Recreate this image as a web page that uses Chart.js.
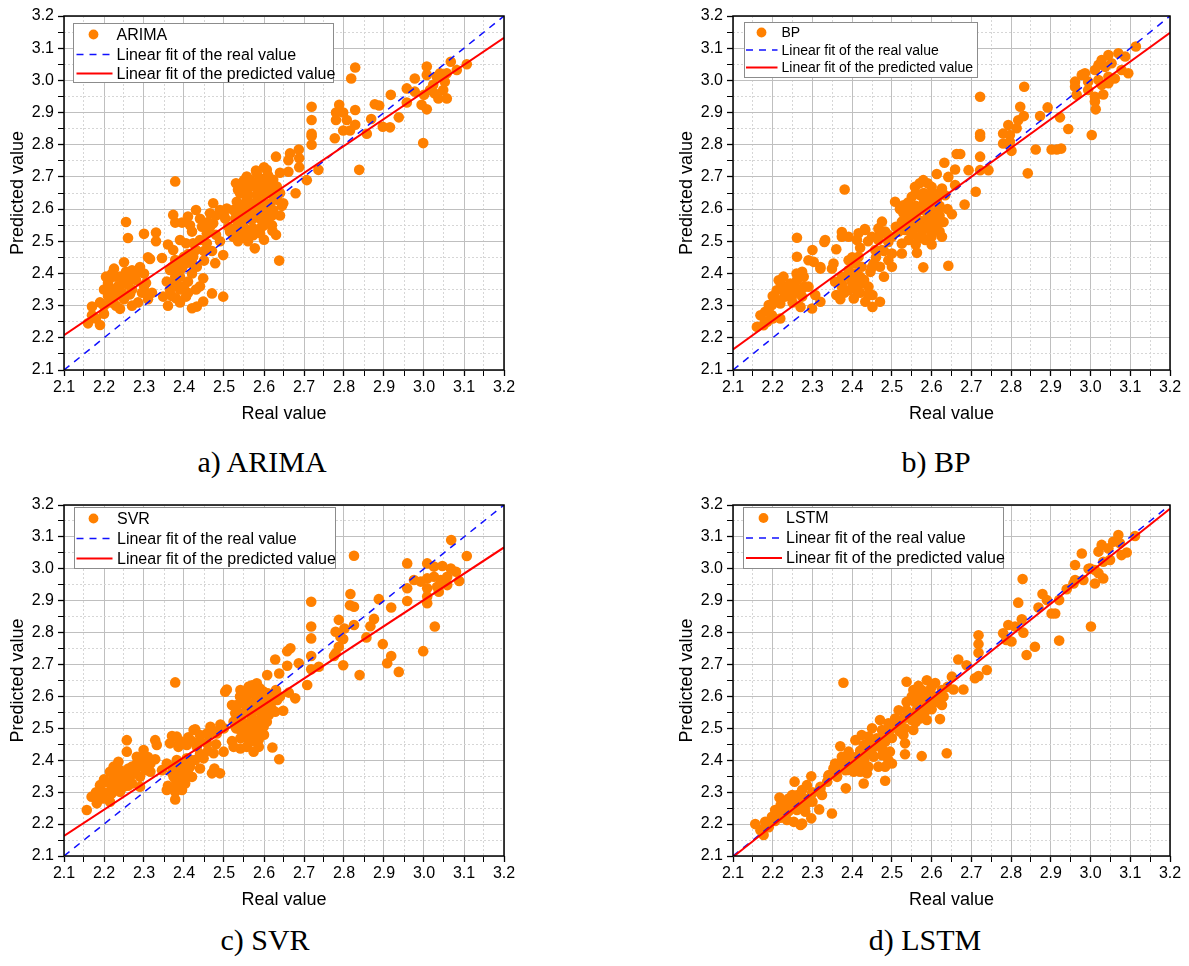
<!DOCTYPE html>
<html><head><meta charset="utf-8">
<script src="https://cdn.jsdelivr.net/npm/chart.js@4.4.0/dist/chart.umd.min.js"></script>
<style>
body{margin:0;background:#fff;width:1189px;height:966px;position:relative;overflow:hidden;font-family:"Liberation Sans",Arial,sans-serif}
canvas{position:absolute}
.cap{position:absolute;font-family:"Liberation Serif","Times New Roman",serif;font-size:30px;color:#000;transform:translate(-50%,-50%);white-space:nowrap;line-height:1}
</style></head><body>
<canvas id="cA" width="524" height="430" style="left:0;top:0"></canvas>
<canvas id="cB" width="521" height="430" style="left:669px;top:0"></canvas>
<canvas id="cC" width="524" height="427" style="left:0;top:489px"></canvas>
<canvas id="cD" width="521" height="427" style="left:669px;top:489px"></canvas>
<div class="cap" style="left:262px;top:462px">a) ARIMA</div>
<div class="cap" style="left:936px;top:462px">b) BP</div>
<div class="cap" style="left:265px;top:940px">c) SVR</div>
<div class="cap" style="left:925px;top:940px">d) LSTM</div>
<script>
// ---------------- DATA ----------------
const axisMin = 2.1, axisMax = 3.2;
const xTitle = 'Real value', yTitle = 'Predicted value';
const realFitLabel = 'Linear fit of the real value';
const predFitLabel = 'Linear fit of the predicted value';
const modelNames = ['ARIMA', 'BP', 'SVR', 'LSTM'];

const realFit  = [[2.1,2.1],[3.2,3.2]];
const arimaFit = [[2.1,2.208],[3.2,3.132]];
const bpFit    = [[2.1,2.164],[3.2,3.148]];
const svrFit   = [[2.1,2.163],[3.2,3.067]];
const lstmFit  = [[2.1,2.097],[3.2,3.188]];

const arimaPoints = [
[3.007,3.043],[3.067,3.058],[3.107,3.05],[3.082,3.032],[2.977,3.006],[2.957,2.975],[2.977,2.965],[3.007,3.017],[3.032,3.012],[3.04,3.022],[3.023,2.986],[3.015,2.97],[3.048,2.97],[3.057,2.944],[3.036,2.944],[2.994,2.924],[3.007,2.91],[2.957,2.931],[2.998,2.805],[3.052,2.996],[3.0,2.955],[3.026,2.96],[3.057,3.022],
[2.917,2.955],[2.877,2.926],[2.888,2.922],[2.937,2.885],[2.868,2.88],[2.897,2.856],[2.915,2.854],[2.857,2.834],[2.828,3.04],[2.818,3.006],[2.788,2.924],[2.78,2.9],[2.798,2.9],[2.828,2.908],[2.78,2.877],[2.807,2.877],[2.828,2.862],[2.798,2.844],[2.815,2.844],[2.777,2.82],[2.838,2.722],[2.719,2.918],[2.719,2.877],[2.719,2.834],[2.719,2.826],[2.719,2.8],[2.736,2.722],[2.707,2.69],[2.687,2.785],[2.688,2.758],[2.688,2.73],[2.665,2.773],[2.661,2.752],[2.63,2.763],[2.64,2.713],[2.661,2.716],[2.679,2.649],[2.648,2.618],
[2.557,2.701],[2.582,2.711],[2.607,2.722],[2.59,2.696],[2.623,2.691],[2.548,2.675],[2.569,2.67],[2.59,2.67],[2.611,2.675],[2.632,2.67],[2.54,2.649],[2.561,2.644],[2.582,2.644],[2.603,2.649],[2.623,2.644],[2.532,2.623],[2.553,2.618],[2.573,2.618],[2.594,2.623],[2.615,2.618],[2.632,2.629],[2.523,2.597],[2.544,2.592],[2.565,2.592],[2.586,2.597],[2.607,2.592],[2.623,2.597],[2.528,2.571],[2.548,2.566],[2.569,2.566],[2.59,2.571],[2.611,2.566],[2.532,2.545],[2.553,2.54],[2.573,2.54],[2.594,2.545],[2.523,2.514],[2.548,2.514],[2.573,2.519],[2.59,2.525],[2.621,2.533],[2.577,2.478],[2.638,2.44],[2.507,2.602],[2.503,2.571],[2.511,2.545],[2.607,2.691],[2.565,2.691],[2.586,2.654],[2.557,2.633],
[2.535,2.66],[2.555,2.655],[2.575,2.68],[2.6,2.66],[2.62,2.655],[2.64,2.65],[2.645,2.61],[2.6,2.61],[2.58,2.6],[2.555,2.6],[2.535,2.605],[2.54,2.58],[2.56,2.575],[2.58,2.58],[2.6,2.58],[2.62,2.58],[2.64,2.58],[2.54,2.53],[2.56,2.525],[2.58,2.53],[2.6,2.55],[2.62,2.55],[2.515,2.53],[2.535,2.5],[2.56,2.5],[2.6,2.505],[2.63,2.52],[2.61,2.705],[2.58,2.72],[2.6,2.73],[2.55,2.69],[2.53,2.68],
[2.378,2.686],[2.373,2.582],[2.378,2.558],[2.395,2.558],[2.41,2.577],[2.43,2.597],[2.415,2.55],[2.39,2.504],[2.405,2.494],[2.378,2.442],[2.365,2.411],[2.378,2.39],[2.395,2.416],[2.405,2.432],[2.423,2.452],[2.43,2.473],[2.44,2.504],[2.457,2.525],[2.473,2.556],[2.473,2.618],[2.465,2.587],[2.49,2.597],[2.498,2.457],[2.478,2.432],[2.448,2.385],[2.47,2.338],[2.498,2.328],[2.448,2.313],[2.432,2.297],[2.42,2.292],[2.405,2.328],[2.38,2.323],[2.365,2.349],[2.395,2.359],[2.41,2.375],[2.42,2.4],[2.39,2.39],[2.348,2.328],[2.357,2.375],[2.382,2.411],[2.4,2.452],[2.423,2.494],[2.457,2.494],[2.465,2.545],[2.445,2.545],[2.48,2.52],[2.42,2.432],[2.432,2.421],[2.44,2.36],[2.373,2.473],
[2.38,2.37],[2.4,2.36],[2.39,2.35],[2.37,2.33],[2.36,2.3],[2.39,2.31],[2.41,2.34],[2.43,2.35],[2.45,2.44],[2.47,2.47],[2.49,2.5],[2.45,2.47],[2.41,2.46],[2.39,2.44],[2.37,2.42],[2.46,2.56],[2.48,2.58],[2.5,2.58],[2.44,2.57],[2.42,2.53],
[2.16,2.245],[2.17,2.297],[2.19,2.24],[2.18,2.26],[2.2,2.275],[2.19,2.31],[2.215,2.31],[2.21,2.33],[2.205,2.39],[2.225,2.415],[2.25,2.435],[2.215,2.385],[2.23,2.39],[2.255,2.405],[2.27,2.41],[2.29,2.42],[2.235,2.36],[2.26,2.365],[2.28,2.38],[2.22,2.35],[2.245,2.34],[2.265,2.335],[2.295,2.34],[2.24,2.29],[2.27,2.3],[2.285,2.31],[2.305,2.34],[2.32,2.34],[2.255,2.56],[2.26,2.51],[2.3,2.523],[2.31,2.45],[2.33,2.527],[2.33,2.5],[2.315,2.445],[2.345,2.448],[2.36,2.49],[2.3,2.4],[2.305,2.37],
[2.2,2.35],[2.21,2.37],[2.23,2.33],[2.25,2.37],[2.24,2.39],[2.26,2.39],[2.28,2.4],[2.27,2.35],[2.25,2.32],[2.23,2.3],[2.17,2.27],[2.2,2.3],[2.22,2.4],[2.3,2.36],[2.31,2.32]
];

const bpPoints = [
[3.114,3.105],[3.045,3.079],[3.07,3.084],[3.087,3.074],[3.028,3.063],[3.02,3.048],[3.037,3.042],[3.053,3.053],[3.011,3.032],[2.986,3.022],[2.978,3.017],[2.961,2.996],[2.961,2.98],[2.994,2.996],[3.02,3.001],[3.045,3.011],[3.061,3.006],[3.078,3.032],[3.095,3.022],[2.994,2.97],[3.011,2.949],[3.011,2.934],[3.013,2.91],[3.032,2.956],[2.965,2.955],[3.003,2.83],[3.028,2.986],[3.045,2.991],
[2.833,2.98],[2.722,2.949],[2.722,2.833],[2.722,2.825],[2.722,2.763],[2.823,2.918],[2.832,2.889],[2.818,2.876],[2.793,2.861],[2.814,2.851],[2.78,2.835],[2.797,2.83],[2.797,2.809],[2.78,2.804],[2.801,2.781],[2.892,2.916],[2.873,2.889],[2.923,2.885],[2.944,2.849],[2.862,2.785],[2.902,2.785],[2.915,2.785],[2.926,2.788],[2.842,2.711],[2.743,2.721],[2.722,2.721],[2.693,2.721],[2.663,2.771],[2.672,2.771],[2.632,2.744],[2.659,2.723],[2.642,2.7],[2.613,2.709],[2.711,2.654],[2.683,2.614],[2.651,2.584],[2.659,2.675],
[2.558,2.669],[2.579,2.69],[2.6,2.669],[2.626,2.664],[2.634,2.643],[2.508,2.623],[2.529,2.612],[2.55,2.638],[2.571,2.643],[2.592,2.638],[2.613,2.628],[2.529,2.587],[2.55,2.597],[2.571,2.602],[2.592,2.607],[2.617,2.597],[2.525,2.561],[2.546,2.566],[2.567,2.566],[2.588,2.571],[2.609,2.566],[2.533,2.535],[2.554,2.535],[2.575,2.54],[2.596,2.535],[2.613,2.54],[2.542,2.504],[2.567,2.509],[2.584,2.504],[2.626,2.514],[2.525,2.493],[2.525,2.462],[2.563,2.464],[2.579,2.419],[2.642,2.424],[2.5,2.514],[2.517,2.53],[2.579,2.597],[2.558,2.587],[2.605,2.587],[2.542,2.587],
[2.52,2.6],[2.54,2.62],[2.56,2.61],[2.58,2.62],[2.6,2.62],[2.62,2.61],[2.64,2.6],[2.56,2.65],[2.58,2.65],[2.6,2.65],[2.62,2.65],[2.59,2.68],[2.57,2.68],[2.55,2.55],[2.57,2.55],[2.59,2.55],[2.61,2.55],[2.63,2.56],[2.55,2.52],[2.575,2.52],[2.6,2.515],[2.62,2.53],[2.53,2.55],[2.51,2.545],[2.54,2.58],[2.56,2.58],[2.6,2.58],[2.62,2.58],[2.56,2.49],[2.6,2.49],
[2.475,2.561],[2.466,2.54],[2.483,2.53],[2.45,2.514],[2.433,2.535],[2.416,2.525],[2.432,2.538],[2.466,2.504],[2.491,2.498],[2.458,2.473],[2.475,2.473],[2.5,2.462],[2.491,2.441],[2.5,2.421],[2.47,2.421],[2.454,2.431],[2.446,2.405],[2.424,2.421],[2.408,2.4],[2.404,2.379],[2.424,2.369],[2.441,2.359],[2.48,2.39],[2.441,2.333],[2.451,2.333],[2.433,2.312],[2.451,2.296],[2.47,2.312],[2.404,2.322],[2.391,2.348],[2.374,2.359],[2.36,2.333],[2.374,2.369],[2.391,2.441],[2.391,2.41],[2.374,2.39],[2.357,2.374],[2.408,2.431],[2.42,2.39],[2.416,2.452],[2.391,2.514],[2.374,2.514],[2.374,2.529],[2.412,2.504],[2.349,2.415],[2.353,2.431],[2.36,2.475],[2.381,2.661],[2.33,2.498],[2.332,2.504],[2.32,2.415],
[2.39,2.39],[2.4,2.37],[2.41,2.35],[2.38,2.34],[2.37,2.32],[2.42,2.34],[2.43,2.38],[2.45,2.42],[2.46,2.45],[2.48,2.47],[2.49,2.52],[2.47,2.52],[2.44,2.5],[2.42,2.48],[2.4,2.45],
[2.261,2.511],[2.261,2.452],[2.3,2.473],[2.29,2.441],[2.303,2.436],[2.32,2.42],[2.274,2.405],[2.227,2.39],[2.215,2.379],[2.21,2.348],[2.227,2.359],[2.244,2.369],[2.261,2.379],[2.278,2.39],[2.24,2.348],[2.257,2.343],[2.274,2.353],[2.29,2.359],[2.231,2.328],[2.248,2.328],[2.274,2.328],[2.307,2.333],[2.27,2.296],[2.299,2.291],[2.32,2.312],[2.219,2.307],[2.198,2.302],[2.19,2.302],[2.181,2.281],[2.169,2.27],[2.198,2.27],[2.186,2.25],[2.16,2.234],[2.177,2.239],[2.219,2.26],[2.235,2.338],[2.252,2.364],
[2.2,2.33],[2.22,2.37],[2.24,2.36],[2.26,2.35],[2.28,2.36],[2.25,2.31],[2.21,2.32],[2.23,2.34],[2.26,2.4],[2.19,2.28],[2.2,2.26],[2.18,2.25]
];

const svrPoints = [
[3.068,3.09],[3.107,3.04],[2.958,3.017],[3.008,3.017],[3.025,3.007],[3.046,3.009],[3.067,3.001],[3.08,2.991],[2.975,2.965],[2.992,2.96],[3.008,2.97],[3.025,2.975],[3.042,2.965],[3.058,2.975],[3.088,2.962],[3.008,2.939],[3.033,2.944],[3.058,2.949],[2.958,2.939],[3.037,2.928],[2.958,2.899],[3.008,2.913],[3.008,2.892],[3.027,2.819],[2.998,2.742],[2.825,3.041],
[2.718,2.897],[2.718,2.819],[2.718,2.782],[2.718,2.727],[2.718,2.685],[2.816,2.921],[2.825,2.881],[2.815,2.886],[2.887,2.905],[2.918,2.879],[2.787,2.84],[2.779,2.803],[2.801,2.813],[2.825,2.824],[2.875,2.843],[2.866,2.82],[2.856,2.785],[2.791,2.787],[2.798,2.78],[2.787,2.756],[2.779,2.735],[2.775,2.727],[2.798,2.698],[2.839,2.667],[2.897,2.764],[2.918,2.727],[2.908,2.704],[2.937,2.677],[2.737,2.693],[2.708,2.636],[2.666,2.751],[2.658,2.742],[2.658,2.696],[2.687,2.704],[2.628,2.716],[2.608,2.667],[2.638,2.672],[2.678,2.594],[2.662,2.612],[2.648,2.555],[2.638,2.403],[2.621,2.44],
[2.503,2.615],[2.507,2.622],[2.52,2.573],[2.541,2.62],[2.562,2.631],[2.582,2.641],[2.557,2.6],[2.578,2.61],[2.599,2.615],[2.62,2.6],[2.532,2.573],[2.553,2.573],[2.574,2.578],[2.595,2.584],[2.616,2.573],[2.633,2.589],[2.528,2.547],[2.549,2.547],[2.57,2.547],[2.591,2.552],[2.612,2.542],[2.628,2.552],[2.524,2.521],[2.545,2.521],[2.566,2.521],[2.587,2.526],[2.607,2.521],[2.541,2.495],[2.562,2.495],[2.582,2.495],[2.557,2.469],[2.578,2.479],[2.524,2.442],[2.541,2.437],[2.557,2.442],[2.574,2.427],[2.587,2.442],[2.57,2.562],[2.595,2.562],[2.599,2.505],[2.541,2.469],[2.587,2.465],
[2.54,2.6],[2.56,2.61],[2.58,2.6],[2.6,2.6],[2.62,2.59],[2.55,2.58],[2.59,2.59],[2.61,2.58],[2.53,2.56],[2.56,2.56],[2.58,2.57],[2.6,2.55],[2.62,2.56],[2.54,2.53],[2.57,2.53],[2.6,2.53],[2.55,2.51],[2.58,2.51],[2.6,2.48],[2.57,2.46],[2.55,2.48],[2.53,2.5],[2.52,2.46],[2.61,2.61],[2.57,2.635],[2.59,2.625],[2.63,2.62],[2.64,2.6],
[2.378,2.644],[2.428,2.497],[2.466,2.505],[2.491,2.512],[2.482,2.484],[2.457,2.484],[2.44,2.479],[2.411,2.472],[2.382,2.474],[2.37,2.476],[2.365,2.453],[2.386,2.442],[2.407,2.448],[2.432,2.442],[2.457,2.453],[2.499,2.427],[2.474,2.422],[2.449,2.406],[2.428,2.401],[2.407,2.406],[2.382,2.401],[2.357,2.39],[2.345,2.369],[2.37,2.38],[2.39,2.374],[2.415,2.38],[2.44,2.374],[2.476,2.374],[2.47,2.359],[2.49,2.359],[2.374,2.348],[2.395,2.348],[2.42,2.348],[2.382,2.322],[2.403,2.327],[2.357,2.307],[2.378,2.301],[2.395,2.307],[2.378,2.277],[2.424,2.495],
[2.37,2.36],[2.39,2.36],[2.41,2.36],[2.38,2.34],[2.4,2.34],[2.38,2.31],[2.36,2.32],[2.4,2.39],[2.42,2.4],[2.44,2.42],[2.46,2.43],[2.48,2.45],[2.44,2.46],[2.42,2.46],[2.39,2.46],[2.46,2.48],[2.48,2.49],[2.5,2.5],
[2.257,2.463],[2.257,2.427],[2.299,2.432],[2.328,2.463],[2.332,2.448],[2.328,2.403],[2.311,2.395],[2.29,2.406],[2.282,2.39],[2.236,2.395],[2.224,2.38],[2.215,2.364],[2.24,2.369],[2.261,2.374],[2.278,2.369],[2.303,2.369],[2.316,2.364],[2.224,2.348],[2.244,2.343],[2.265,2.348],[2.29,2.348],[2.228,2.322],[2.249,2.317],[2.27,2.327],[2.29,2.317],[2.24,2.301],[2.219,2.296],[2.19,2.322],[2.194,2.301],[2.178,2.291],[2.169,2.286],[2.182,2.265],[2.198,2.28],[2.215,2.27],[2.157,2.244],[2.316,2.39],[2.282,2.411],
[2.21,2.33],[2.23,2.36],[2.25,2.36],[2.27,2.38],[2.25,2.34],[2.22,2.31],[2.2,2.3],[2.26,2.32],[2.3,2.38],[2.2,2.34],[2.18,2.3],[2.31,2.41]
];

const lstmPoints = [
[3.07,3.106],[3.112,3.103],[3.057,3.085],[3.028,3.075],[3.045,3.064],[3.02,3.054],[3.074,3.08],[3.091,3.051],[3.078,3.043],[3.049,3.028],[3.032,3.022],[2.978,3.048],[2.961,3.012],[2.999,3.001],[3.011,2.996],[3.02,2.986],[3.032,2.97],[3.011,2.954],[2.982,2.965],[2.961,2.965],[2.957,2.954],[2.94,2.936],[2.995,3.0],[2.921,2.902],[2.911,2.86],[2.902,2.86],[2.921,2.775],[3.001,2.819],[2.879,2.921],[2.89,2.902],[2.869,2.879],[2.829,2.968],[2.818,2.894],[2.827,2.842],[2.81,2.819],[2.793,2.824],[2.78,2.798],[2.788,2.777],[2.801,2.772],[2.831,2.8],[2.839,2.73],[2.86,2.756],[2.718,2.792],[2.718,2.764],[2.718,2.737],[2.709,2.657],[2.718,2.664],[2.739,2.683],[2.688,2.698],[2.667,2.716],[2.651,2.662],[2.68,2.622],[2.655,2.622],[2.621,2.529],[2.638,2.422],[2.575,2.413],[2.533,2.419],[2.378,2.643],
[2.588,2.651],[2.567,2.633],[2.609,2.642],[2.537,2.646],[2.626,2.62],[2.554,2.62],[2.575,2.62],[2.596,2.62],[2.617,2.594],[2.537,2.583],[2.558,2.583],[2.579,2.589],[2.6,2.578],[2.626,2.573],[2.517,2.557],[2.537,2.557],[2.562,2.557],[2.583,2.552],[2.508,2.531],[2.529,2.531],[2.55,2.526],[2.571,2.531],[2.588,2.526],[2.491,2.516],[2.512,2.505],[2.533,2.5],[2.554,2.495],[2.529,2.479],[2.533,2.453],[2.47,2.526],[2.45,2.5],[2.475,2.495],[2.491,2.484],[2.441,2.474],[2.462,2.469],[2.483,2.458],[2.424,2.479],[2.408,2.463],[2.429,2.448],[2.454,2.442],[2.475,2.437],[2.495,2.427],[2.37,2.444],
[2.55,2.6],[2.57,2.6],[2.59,2.61],[2.61,2.6],[2.6,2.56],[2.62,2.58],[2.58,2.57],[2.56,2.55],[2.54,2.54],[2.52,2.52],[2.5,2.5],[2.48,2.48],[2.46,2.46],[2.44,2.45],[2.42,2.43],[2.4,2.41],[2.38,2.39],[2.36,2.37],[2.52,2.49],[2.5,2.47],[2.47,2.45],[2.45,2.42],[2.43,2.4],[2.41,2.39],[2.39,2.37],[2.56,2.52],[2.58,2.54],[2.6,2.63],[2.63,2.6],[2.64,2.63],
[2.391,2.427],[2.374,2.411],[2.357,2.39],[2.353,2.375],[2.374,2.385],[2.395,2.401],[2.412,2.411],[2.433,2.422],[2.454,2.411],[2.475,2.416],[2.491,2.401],[2.5,2.39],[2.483,2.38],[2.466,2.38],[2.441,2.38],[2.424,2.39],[2.404,2.38],[2.383,2.369],[2.404,2.364],[2.42,2.364],[2.437,2.359],[2.362,2.348],[2.384,2.312],[2.429,2.327],[2.483,2.336],[2.341,2.354],[2.337,2.333],
[2.297,2.35],[2.255,2.333],[2.286,2.322],[2.32,2.317],[2.324,2.291],[2.299,2.296],[2.274,2.307],[2.249,2.291],[2.217,2.283],[2.227,2.265],[2.244,2.27],[2.265,2.275],[2.286,2.265],[2.206,2.244],[2.223,2.239],[2.24,2.249],[2.261,2.244],[2.282,2.239],[2.317,2.246],[2.349,2.233],[2.236,2.213],[2.253,2.207],[2.274,2.202],[2.27,2.197],[2.297,2.218],[2.198,2.223],[2.181,2.207],[2.156,2.2],[2.169,2.181],[2.177,2.166],[2.19,2.19],[2.206,2.21],
[2.3,2.3],[2.28,2.28],[2.26,2.26],[2.24,2.24],[2.22,2.22],[2.26,2.29],[2.24,2.28],[2.22,2.26],[2.28,2.25],[2.3,2.27],[2.32,2.31],[2.34,2.35],[2.36,2.36]
];

// ---------------- STYLE / CHART ----------------
const ORANGE = 'rgb(255,128,0)', BLUE = '#1010ff', RED = '#ff0000';
const FAM = '"Liberation Sans", Arial, sans-serif';
const isMajor = v => Math.abs(Math.round(v * 20)) % 2 === 0;
const toXY = arr => arr.map(p => ({x: p[0], y: p[1]}));

const frameLegend = {
  id: 'frameLegend',
  afterDraw(chart, args, L) {
    const {ctx, chartArea: a} = chart;
    ctx.save();
    ctx.strokeStyle = '#000'; ctx.lineWidth = 1.5; ctx.setLineDash([]);
    ctx.strokeRect(a.left, a.top, a.right - a.left, a.bottom - a.top);
    const bx = Math.round(a.left + L.x) + 0.5, by = Math.round(a.top + L.y) + 0.5;
    ctx.fillStyle = '#fff'; ctx.fillRect(bx, by, L.w, L.h);
    ctx.strokeStyle = '#8c8c8c'; ctx.lineWidth = 1; ctx.strokeRect(bx, by, L.w, L.h);
    const ds = chart.data.datasets;
    ctx.font = L.font + 'px ' + FAM; ctx.textBaseline = 'middle'; ctx.textAlign = 'left'; ctx.fillStyle = '#000';
    ctx.beginPath(); ctx.fillStyle = ds[0].backgroundColor;
    ctx.arc(bx + L.cx, by + L.rows[0], 4.9, 0, Math.PI * 2); ctx.fill();
    for (let i = 1; i <= 2; i++) {
      ctx.beginPath(); ctx.strokeStyle = ds[i].borderColor; ctx.lineWidth = ds[i].borderWidth;
      ctx.setLineDash(ds[i].borderDash || []);
      ctx.moveTo(bx + L.l0, by + L.rows[i]); ctx.lineTo(bx + L.l1, by + L.rows[i]); ctx.stroke();
    }
    ctx.setLineDash([]); ctx.fillStyle = '#000';
    for (let i = 0; i < 3; i++) ctx.fillText(ds[i].label, bx + L.tx, by + L.rows[i] + 1);
    ctx.restore();
  }
};

function axisCfg(pos, title, size) {
  const horiz = pos === 'bottom';
  return {
    type: 'linear', position: pos, min: axisMin, max: axisMax,
    ticks: { stepSize: 0.05, autoSkip: false, maxRotation: 0, color: '#000', padding: horiz ? 2 : 4,
      font: {size: 16, family: FAM},
      callback: v => isMajor(v) ? v.toFixed(1) : '' },
    grid: { color: c => (c.tick && isMajor(c.tick.value)) ? '#bfbfbf' : '#d6d6d6', lineWidth: 1,
      tickColor: '#000', tickLength: 6, tickWidth: c => (c.tick && isMajor(c.tick.value)) ? 1.3 : 1 },
    border: { display: false, dash: c => (c.tick && !isMajor(c.tick.value)) ? [2, 2] : [] },
    title: { display: true, text: title, color: '#000', font: {size: 18, family: FAM},
      padding: horiz ? {top: 0, bottom: 5} : {top: 7, bottom: 7} },
    afterFit: s => { if (horiz) s.height = size; else s.width = size; }
  };
}

function panel(id, pts, fit, name, top, right, legend) {
  new Chart(document.getElementById(id), {
    type: 'scatter',
    data: { datasets: [
      { label: name, data: toXY(pts), backgroundColor: ORANGE, borderColor: ORANGE, borderWidth: 0, pointRadius: 5.3, pointHoverRadius: 5.3, order: 3 },
      { type: 'line', label: realFitLabel, data: toXY(realFit), borderColor: BLUE, borderWidth: 1.5, borderDash: [7, 6], pointRadius: 0, fill: false, order: 2 },
      { type: 'line', label: predFitLabel, data: toXY(fit), borderColor: RED, borderWidth: 2, pointRadius: 0, fill: false, order: 1 }
    ]},
    options: {
      responsive: false, animation: false, events: [],
      layout: { padding: { left: 0, top: top, right: right, bottom: 0 } },
      plugins: { legend: { display: false }, tooltip: { enabled: false }, frameLegend: legend },
      scales: { x: axisCfg('bottom', xTitle, 60), y: axisCfg('left', yTitle, 64) }
    },
    plugins: [frameLegend]
  });
}

const legA = {x: 9, y: 7, w: 260, h: 59, rows: [11, 31, 50], cx: 20, l0: 3, l1: 39, tx: 43, font: 16};
const legB = {x: 10.5, y: 5.5, w: 233, h: 55, rows: [10, 27.5, 45], cx: 17, l0: 1.5, l1: 33, tx: 37, font: 14};
const legC = {x: 10, y: 2, w: 261, h: 61, rows: [11, 31, 51], cx: 19, l0: 2, l1: 38, tx: 42.5, font: 16};
const legD = {x: 9.5, y: 1.5, w: 260, h: 61, rows: [10.5, 30.5, 50.5], cx: 20, l0: 2.5, l1: 38.5, tx: 42.5, font: 16};

panel('cA', arimaPoints, arimaFit, modelNames[0], 16, 20, legA);
panel('cB', bpPoints, bpFit, modelNames[1], 16, 20, legB);
panel('cC', svrPoints, svrFit, modelNames[2], 16, 20, legC);
panel('cD', lstmPoints, lstmFit, modelNames[3], 16, 20, legD);
</script>
</body></html>
